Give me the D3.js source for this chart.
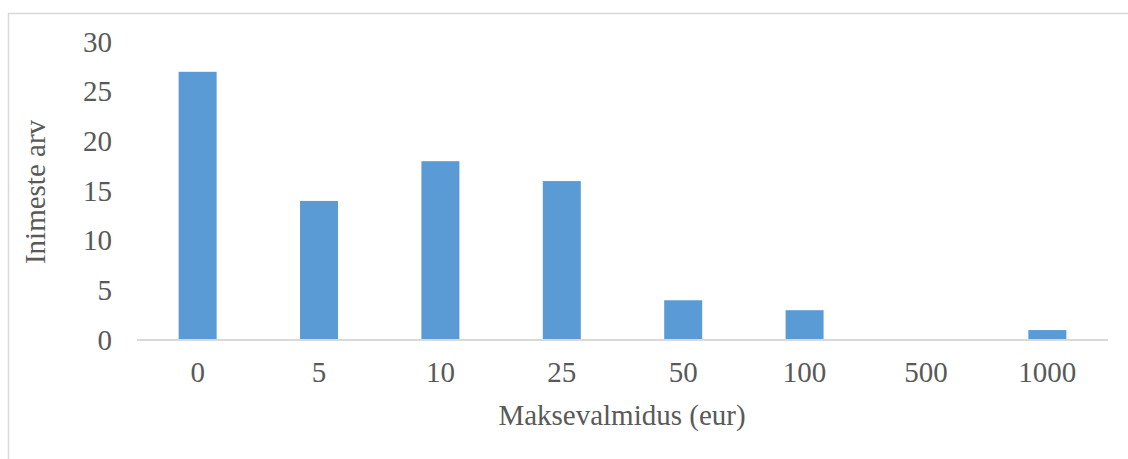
<!DOCTYPE html>
<html><head><meta charset="utf-8">
<script src="https://cdn.jsdelivr.net/npm/d3@7"></script>
<style>html,body{margin:0;padding:0;background:#fff;}svg{display:block;}</style>
</head><body>
<script>
const categories = ["0","5","10","25","50","100","500","1000"];
const values = [27,14,18,16,4,3,0,1];
const yTicks = [0,5,10,15,20,25,30];
const xTitle = "Maksevalmidus (eur)";
const yTitle = "Inimeste arv";

const W = 1128, H = 459;
const svg = d3.select("body").append("svg").attr("width", W).attr("height", H);
const font = "'Liberation Serif','Times New Roman',serif";
const txt = "#595959";

svg.append("rect").attr("x",8.5).attr("y",13.5).attr("width",1140).attr("height",500)
  .attr("fill","none").attr("stroke","#d9d9d9").attr("stroke-width",1.5);

const pLeft = 137, pRight = 1108, pTop = 42, pBottom = 340;
const x = d3.scaleBand().domain(categories).range([pLeft,pRight]).paddingInner(0.687).paddingOuter(0.343);
const y = d3.scaleLinear().domain([0,30]).range([pBottom, pTop]);

svg.selectAll("rect.bar").data(values).enter().append("rect").attr("class","bar")
  .attr("x",(d,i)=>x(categories[i])).attr("width",x.bandwidth())
  .attr("y",d=>y(d)).attr("height",d=>y(0)-y(d)).attr("fill","#5b9bd5");

svg.append("line").attr("x1",pLeft).attr("x2",pRight).attr("y1",y(0)).attr("y2",y(0))
  .attr("stroke","#d9d9d9").attr("stroke-width",2);

const yAxis = svg.append("g").attr("transform",`translate(${pLeft},0)`)
  .call(d3.axisLeft(y).tickValues(yTicks).tickSize(0).tickPadding(25));
yAxis.select(".domain").remove();
yAxis.selectAll("text").attr("font-family",font).attr("font-size",29).attr("fill",txt);

const xAxis = svg.append("g").attr("transform",`translate(0,${pBottom})`)
  .call(d3.axisBottom(x).tickSize(0).tickPadding(21));
xAxis.select(".domain").remove();
xAxis.selectAll("text").attr("font-family",font).attr("font-size",29).attr("fill",txt);

svg.append("text").attr("x",622).attr("y",425).attr("text-anchor","middle")
  .attr("font-family",font).attr("font-size",29).attr("fill",txt).text(xTitle);
svg.append("text").attr("transform","translate(45,192) rotate(-90)").attr("text-anchor","middle")
  .attr("font-family",font).attr("font-size",29).attr("fill",txt).text(yTitle);
</script>
</body></html>
